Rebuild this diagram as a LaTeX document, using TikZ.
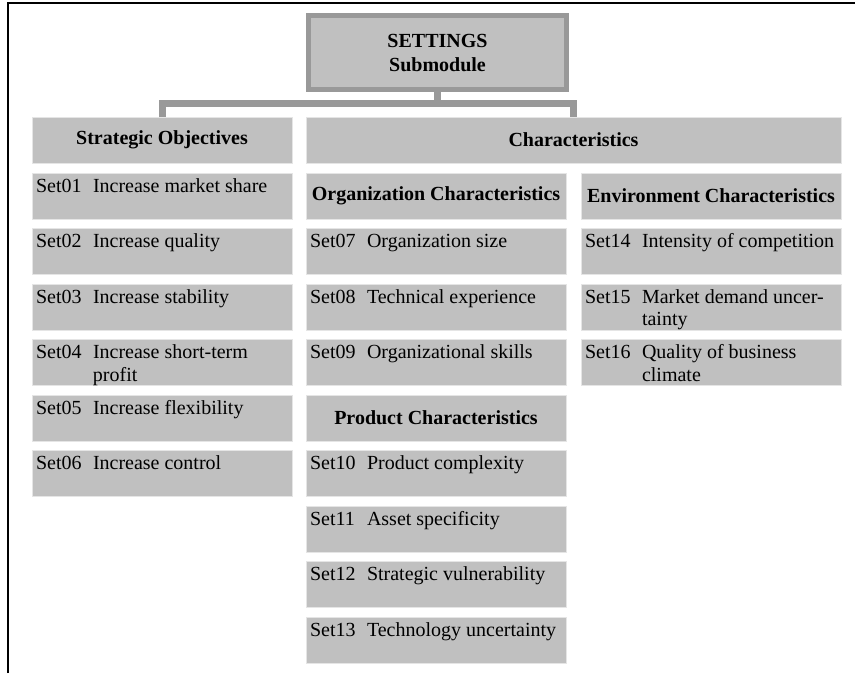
\documentclass[tikz,border=0pt]{standalone}
\usepackage{fontspec}
\setmainfont{Liberation Serif}
\definecolor{relleno}{HTML}{C0C0C0}
\definecolor{borde}{HTML}{999999}
\newcommand{\fila}[2]{\parbox[t][46pt][t]{260pt}{\rule{0pt}{19pt}\hspace*{4pt}\makebox[57pt][l]{#1}\parbox[t]{196pt}{#2}}}
\tikzset{
  celda/.style={fill=relleno, draw=black!10, line width=0.6pt, inner sep=0pt, outer sep=0pt, anchor=north west},
  cabecera/.style={celda, minimum width=260pt, minimum height=46pt, font=\fontsize{20}{24}\selectfont\bfseries},
  enlace/.style={draw=borde, line width=7pt}
}
\begin{document}
\begin{tikzpicture}[x=1pt, y=-1pt, font=\fontsize{20}{22.5}\selectfont]
    \useasboundingbox (0,0) rectangle (855,673);
    % Marco
    \draw[line width=2pt] (8,673) -- (8,3) -- (855,3);
    % Modulo
    \node[fill=relleno, draw=borde, line width=5pt, minimum width=258pt, minimum height=74pt,
      align=center, font=\fontsize{20}{24}\selectfont\bfseries] (settings) at (437.5,52.5) {SETTINGS\\Submodule};
    % Cabeceras
    \node[cabecera] (so) at (32,117) {Strategic Objectives};
    \node[cabecera, minimum width=535pt] (ch) at (306,117) {Characteristics};
    \node[cabecera] (oc) at (306,173) {Organization Characteristics};
    \node[cabecera] (ec) at (581,173) {Environment Characteristics};
    \node[cabecera] (pc) at (306,395) {Product Characteristics};
    % Enlaces
    \coordinate (bus) at (437.5,103);
    \draw[enlace] (settings.south) -- (settings.south |- bus);
    \draw[enlace] (so.north) |- (ch.north |- bus) -- (ch.north);
    % Objetivos
    \node[celda] (set01) at (32,173) {\fila{Set01}{Increase market share}};
    \node[celda] (set02) at (32,228.5) {\fila{Set02}{Increase quality}};
    \node[celda] (set03) at (32,284) {\fila{Set03}{Increase stability}};
    \node[celda] (set04) at (32,339.5) {\fila{Set04}{Increase short-term\\profit}};
    \node[celda] (set05) at (32,395) {\fila{Set05}{Increase flexibility}};
    \node[celda] (set06) at (32,450.5) {\fila{Set06}{Increase control}};
    % Organizacion y producto
    \node[celda] (set07) at (306,228.5) {\fila{Set07}{Organization size}};
    \node[celda] (set08) at (306,284) {\fila{Set08}{Technical experience}};
    \node[celda] (set09) at (306,339.5) {\fila{Set09}{Organizational skills}};
    \node[celda] (set10) at (306,450.5) {\fila{Set10}{Product complexity}};
    \node[celda] (set11) at (306,506) {\fila{Set11}{Asset specificity}};
    \node[celda] (set12) at (306,561.5) {\fila{Set12}{Strategic vulnerability}};
    \node[celda] (set13) at (306,617) {\fila{Set13}{Technology uncertainty}};
    % Entorno
    \node[celda] (set14) at (581,228.5) {\fila{Set14}{Intensity of competition}};
    \node[celda] (set15) at (581,284) {\fila{Set15}{Market demand uncer-\\tainty}};
    \node[celda] (set16) at (581,339.5) {\fila{Set16}{Quality of business\\climate}};
  \end{tikzpicture}
\end{document}
